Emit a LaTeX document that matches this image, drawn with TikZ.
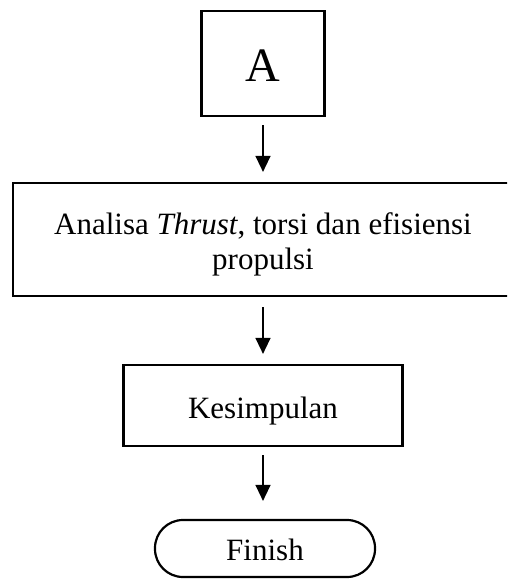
\documentclass[tikz,border=0pt]{standalone}
\usepackage{fontspec}
\setmainfont{Liberation Serif}
\usetikzlibrary{arrows.meta}
\tikzset{
  box/.style={draw, line width=2.2pt, align=center, font=\fontsize{31}{35}\selectfont},
  term/.style={box, rounded corners=28pt},
  flow/.style={-{Triangle[length=16pt,width=15pt]}, line width=1.4pt}
}
\begin{document}
\begin{tikzpicture}[x=1pt, y=1pt]
    \clip (0,0) rectangle (507,-579);

    % Blocks
    \node[box, minimum width=123pt, minimum height=105pt, text height=36pt, font=\fontsize{48}{58}\selectfont] (a) at (263,-63.5) {A};
    \node[box, minimum width=500pt, minimum height=113pt, text height=66pt] (analisa) at (263,-239.5) {Analisa \textit{Thrust}, torsi dan efisiensi\\propulsi};
    \node[box, minimum width=279pt, minimum height=81pt, text height=33pt] (kesimpulan) at (263,-405.5) {Kesimpulan};
    \node[term, minimum width=220pt, minimum height=57pt, text height=25pt] (finish) at (265,-548.5) {Finish};

    % Arrows
    \draw[flow] ([yshift=-8pt]a.south) -- ([yshift=10pt]analisa.north);
    \draw[flow] ([yshift=-10pt]analisa.south) -- ([yshift=10pt]kesimpulan.north);
    \draw[flow] ([yshift=-8pt]kesimpulan.south) -- ([yshift=18pt,xshift=-2pt]finish.north);
\end{tikzpicture}
\end{document}
